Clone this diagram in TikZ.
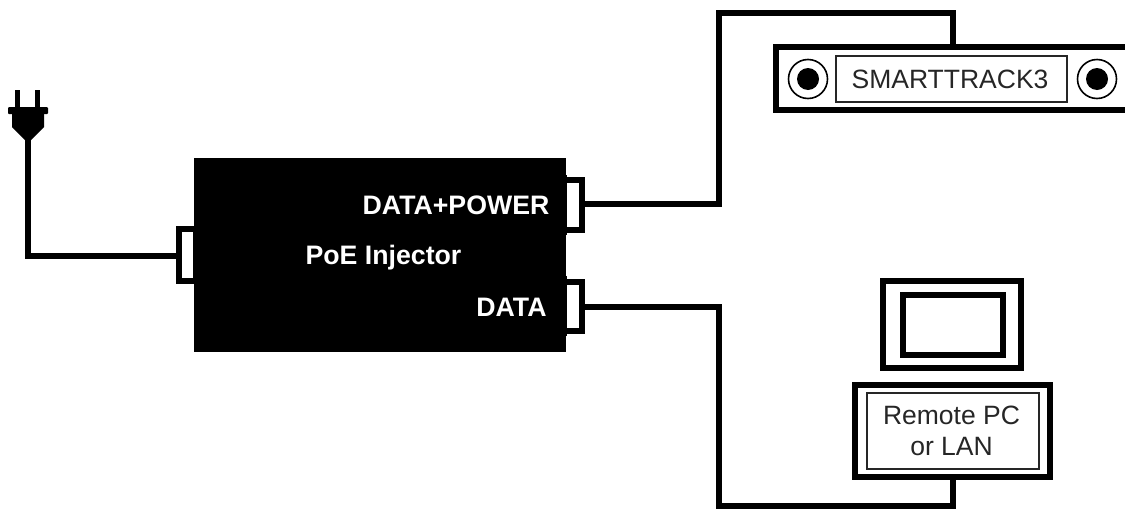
\documentclass[tikz,border=0pt]{standalone}
\usepackage{fontspec}
\setmainfont{Liberation Sans}
\tikzset{
  heavy/.style={draw=black,line width=6pt,fill=white,inner sep=0pt,outer sep=0pt,rectangle},
  cable/.style={draw=black,line width=5.5pt,line join=miter,line cap=butt},
  labelbox/.style={draw=black!85,line width=1.2pt,fill=white,inner sep=0pt,outer sep=0pt,rectangle,align=center,text=black!85,font=\fontsize{26.5}{31}\selectfont},
  ring/.style={circle,draw=black,line width=1.6pt,fill=white,inner sep=0pt,outer sep=0pt,minimum size=39pt},
  hole/.style={circle,fill=black,inner sep=0pt,outer sep=0pt,minimum size=22pt},
  inv/.style={text=white,inner sep=0pt,font=\bfseries\fontsize{26.7}{31}\selectfont},
}
\begin{document}
\begin{tikzpicture}[x=1pt,y=-1pt]
\useasboundingbox (0,0) rectangle (1125,509);
\clip (0,0) rectangle (1125,509);
% plug
\fill[black] (15,90) rectangle (20,108);
\fill[black] (35,90) rectangle (40,108);
\fill[black,rounded corners=1pt] (8,107) rectangle (48,114);
\fill[black] (12,113) -- (44,113) -- (44,127) -- (31,140) -- (25,140) -- (12,127) -- cycle;
\coordinate (plugtip) at (28,138);
% injector
\node[draw=black,fill=black,line width=1pt,inner sep=0pt,outer sep=0pt,rectangle,minimum width=371pt,minimum height=193pt] (injector) at (380,255) {};
\node[heavy,minimum width=17pt,minimum height=51.5pt] (portin) at (187.5,255) {};
\node[heavy,minimum width=25pt,minimum height=49.5pt] (portpower) at (569,205) {};
\node[heavy,minimum width=25pt,minimum height=49.5pt] (portdata) at (569,306.5) {};
\fill[black] (194,225) rectangle (200,285);
\fill[black] (560,175) rectangle (566.5,235);
\fill[black] (560,276) rectangle (566.5,336);
\node[inv] (lblpower) at (456,205) {DATA+POWER};
\node[inv] (lblinj) at (383.5,258) {PoE Injector};
\node[inv] (lbldata) at (511.5,307) {DATA};
% SMARTTRACK3
\node[heavy,minimum width=380pt,minimum height=63pt] (track) at (966,78.5) {};
\node[labelbox,minimum width=231pt,minimum height=46pt] (tracklabel) at (951.5,79) {\hspace*{-3pt}SMARTTRACK3};
\node[ring] (ringa) at (808,79) {};
\node[hole] at (ringa.center) {};
\node[ring] (ringb) at (1097,79) {};
\node[hole] at (ringb.center) {};
% monitor and PC
\node[heavy,minimum width=138pt,minimum height=87pt] (monitor) at (952,324.5) {};
\node[heavy,minimum width=100pt,minimum height=60pt] (screen) at (953,325) {};
\node[heavy,minimum width=195pt,minimum height=92pt] (pc) at (952.5,431) {};
\node[labelbox,minimum width=172pt,minimum height=76pt] (pclabel) at (953,431) {\hspace*{-3pt}Remote PC\\\hspace*{-3pt}or LAN};
% connectors
\coordinate (pa) at (719,204);
\coordinate (pb) at (719,13);
\coordinate (pc1) at (953,13);
\coordinate (da) at (719,307);
\coordinate (db) at (719,506);
\coordinate (dc) at (953,506);
\coordinate (ma) at (28,256);
\draw[cable,line width=6pt] (plugtip) -- (ma) -- (portin.west |- ma);
\draw[cable] (portpower.east |- pa) -- (pa) -- (pb) -- (pc1) -- (track.north -| pc1);
\draw[cable] (portdata.east |- da) -- (da) -- (db) -- (dc) -- (pc.south -| dc);
\end{tikzpicture}
\end{document}
